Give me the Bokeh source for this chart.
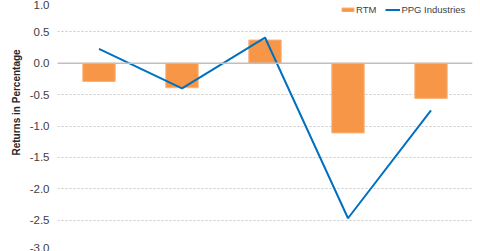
from bokeh.plotting import figure
from bokeh.models import ColumnDataSource, Span, Title, Legend, LegendItem, FixedTicker, CustomJSTickFormatter
from bokeh.embed import file_html
from bokeh.resources import INLINE

categories = ["P1", "P2", "P3", "P4", "P5"]
rtm = [-0.29, -0.39, 0.37, -1.11, -0.56]
ppg = [0.23, -0.40, 0.41, -2.47, -0.75]
y_ticks = [1.0, 0.5, 0.0, -0.5, -1.0, -1.5, -2.0, -2.5, -3.0]

src = ColumnDataSource(dict(cat=categories, rtm=rtm, ppg=ppg))

p = figure(width=480, height=251, x_range=categories, y_range=(-3.0, 1.0),
           output_backend="svg", toolbar_location=None,
           min_border_left=57, min_border_right=8, min_border_top=0, min_border_bottom=0)
p.outline_line_color = None
p.background_fill_color = "white"
p.border_fill_color = "white"
p.xaxis.visible = False
p.xgrid.visible = False

p.yaxis.ticker = FixedTicker(ticks=y_ticks)
p.yaxis.axis_line_color = None
p.yaxis.major_tick_line_color = None
p.yaxis.minor_tick_line_color = None
p.yaxis.major_tick_out = 0
p.yaxis.major_tick_in = 0
p.yaxis.major_label_standoff = 8
p.yaxis.major_label_text_font = "Liberation Sans"
p.yaxis.major_label_text_font_size = "11.5px"
p.yaxis.major_label_text_color = "#404040"
p.yaxis.formatter = CustomJSTickFormatter(code="return tick.toFixed(1);")

p.ygrid.grid_line_color = "#c8c8c8"
p.ygrid.grid_line_dash = "2 2"
p.ygrid.grid_line_width = 1

bars = p.vbar(x="cat", top="rtm", bottom=0, width=0.39, source=src,
              fill_color="#F79646", line_color="#FAB27A", line_width=1)
p.add_layout(Span(location=0, dimension="width", line_color="#bfbfbf", line_width=1.5))
line = p.line(x="cat", y="ppg", source=src, line_color="#0070C0", line_width=2)

legend = Legend(items=[LegendItem(label="RTM", renderers=[bars]),
                       LegendItem(label="PPG Industries", renderers=[line])],
                orientation="horizontal", location=(283, 236),
                glyph_width=15, glyph_height=5, label_standoff=1, spacing=9,
                padding=0, margin=0, border_line_color=None,
                background_fill_alpha=0,
                label_text_font="Liberation Sans", label_text_font_size="9.5px",
                label_text_color="#404040", label_height=10)
p.add_layout(legend, "center")

p.add_layout(Title(text="Returns in Percentage", align="left", offset=96,
                   text_font="Liberation Sans", text_font_style="bold",
                   text_font_size="10px", text_color="#262626", standoff=10), "left")

open("out.html", "w").write(file_html(p, INLINE))
